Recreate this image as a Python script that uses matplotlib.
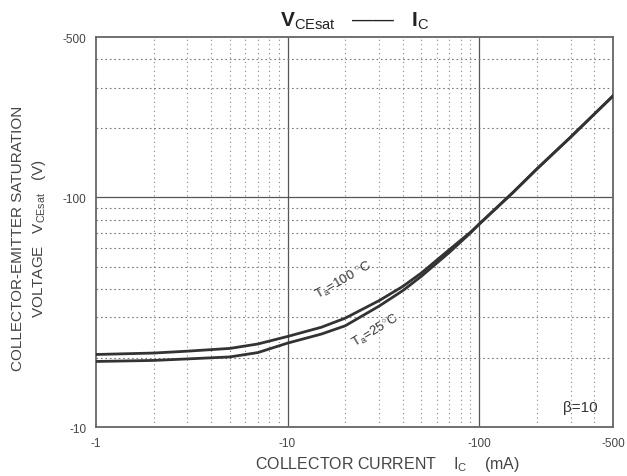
import matplotlib.pyplot as plt
from matplotlib.ticker import FixedLocator, NullFormatter

plt.rcParams['font.family'] = ['Liberation Sans', 'DejaVu Sans']
plt.rcParams['mathtext.fontset'] = 'custom'
plt.rcParams['mathtext.rm'] = 'Liberation Sans'
plt.rcParams['mathtext.bf'] = 'Liberation Sans:bold'

# collector current magnitude (mA)
ic = [1, 2, 3, 5, 7, 10, 15, 20, 30, 40, 50, 70, 90, 100, 150, 200, 300, 500]
# VCEsat magnitude, Ta = 100 C (upper) and Ta = 25 C (lower)
v_100 = [20.7, 21.0, 21.4, 22.0, 23.0, 24.8, 27.2, 29.8, 35.5, 41.0, 46.9, 59.3, 70.5, 76.5, 105, 133, 183, 277]
v_25 = [19.3, 19.5, 19.8, 20.2, 21.1, 23.2, 25.4, 27.6, 33.6, 39.3, 45.4, 57.7, 70.0, 76.5, 105, 133, 183, 277]

x_ticks = [1, 10, 100, 500]
x_labels = ['-1', '-10', '-100', '-500']
y_ticks = [10, 100, 500]
y_labels = ['-10', '-100', '-500']

fig = plt.figure(figsize=(6.27, 4.77), dpi=100)
ax = fig.add_axes([0.1531, 0.1027, 0.8246, 0.8176])

ax.set_xscale('log')
ax.set_yscale('log')
ax.set_xlim(1, 500)
ax.set_ylim(10, 500)

# grid: solid decades, dotted minors
gc = '#555555'
for v in [10, 100]:
    ax.axvline(v, color=gc, lw=0.9, zorder=1)
ax.axhline(100, color=gc, lw=0.9, zorder=1)
xminor = [2, 3, 4, 5, 6, 7, 8, 9, 20, 30, 40, 50, 60, 70, 80, 90, 200, 300, 400]
yminor = [20, 30, 40, 50, 60, 70, 80, 90, 200, 300, 400]
for v in xminor:
    ax.axvline(v, color='#888888', lw=0.8, ls=(0, (1, 3)), zorder=1)
for v in yminor:
    ax.axhline(v, color='#777777', lw=0.8, ls=(0, (1.5, 2.5)), zorder=1)

ax.plot(ic, v_100, color='#333333', lw=2.0, zorder=3)
ax.plot(ic, v_25, color='#333333', lw=2.0, zorder=3)

ax.xaxis.set_major_locator(FixedLocator(x_ticks))
ax.set_xticklabels(x_labels)
ax.xaxis.set_minor_formatter(NullFormatter())
ax.yaxis.set_major_locator(FixedLocator(y_ticks))
ax.set_yticklabels(y_labels)
ax.yaxis.set_minor_formatter(NullFormatter())
ax.tick_params(which='both', length=0, labelsize=8.5, labelcolor='#444444', pad=7)

for s in ax.spines.values():
    s.set_color('#666666')
    s.set_linewidth(1.3)

# annotations
ax.text(19.5, 44, r'T$_{\mathrm{a}}$=100 $^{\circ}$C', rotation=30, fontsize=9.5,
        color='#333333', ha='center', va='center')
ax.text(28.6, 26.5, r'T$_{\mathrm{a}}$=25$^{\circ}$C', rotation=31, fontsize=9.5,
        color='#333333', ha='center', va='center')
ax.text(336, 12.2, 'β=10', fontsize=11, color='#333333', ha='center', va='center')

# title and axis labels
fig.text(0.5654, 0.955, r'$\mathbf{V}_{\mathrm{CEsat}}$   ——   $\mathbf{I}_{\mathrm{C}}$',
         fontsize=15, ha='center', va='center', color='#222222')
fig.text(0.028, 0.50, 'COLLECTOR-EMITTER SATURATION', rotation=90, fontsize=11,
         ha='center', va='center', color='#444444')
fig.text(0.062, 0.50, r'VOLTAGE   V$_{\mathrm{CEsat}}$   (V)', rotation=90, fontsize=11,
         ha='center', va='center', color='#444444')
fig.text(0.618, 0.027, r'COLLECTOR CURRENT    I$_{\mathrm{C}}$    (mA)', fontsize=11.5,
         ha='center', va='center', color='#444444')

fig.savefig('out.png', dpi=100)
